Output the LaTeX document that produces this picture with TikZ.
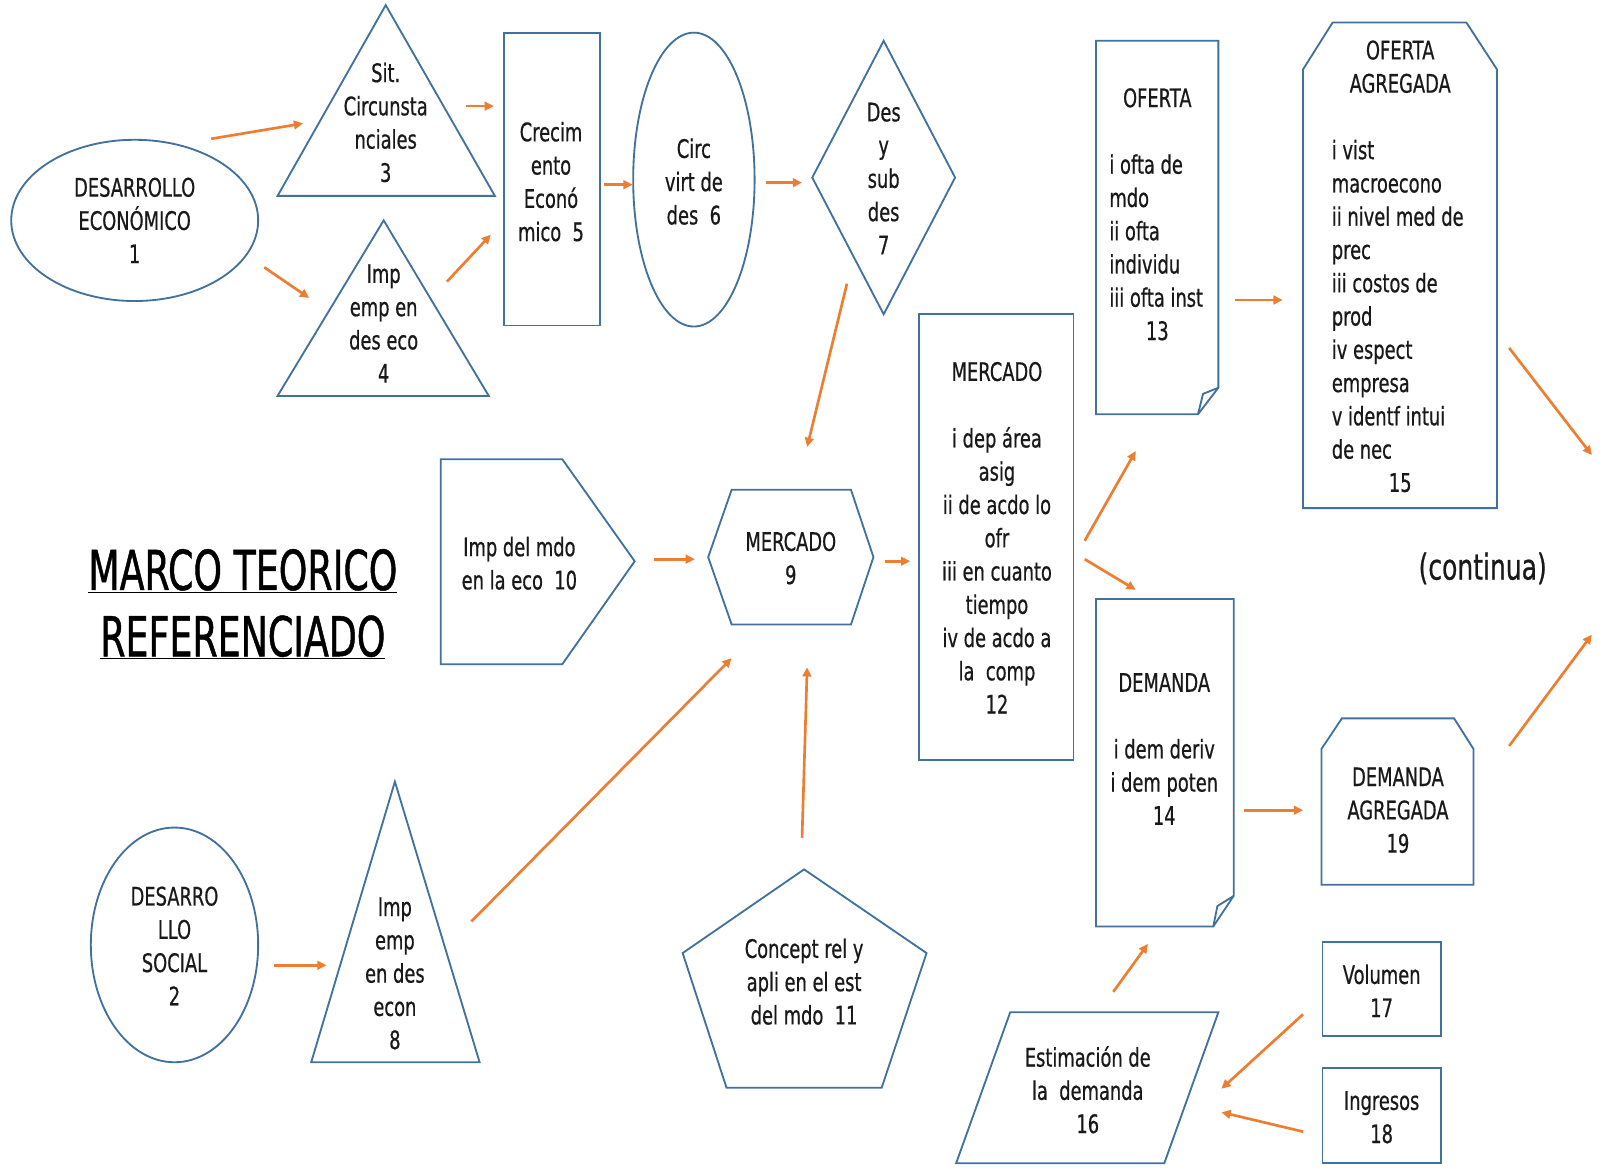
\documentclass[tikz,border=0pt]{standalone}
\usepackage{fontspec}
\setmainfont[FakeStretch=0.7,FakeBold=0.6]{DejaVu Sans}
\newfontfamily\titlefont[FakeStretch=0.66,FakeBold=0.8]{DejaVu Sans}
\usetikzlibrary{arrows.meta}
\definecolor{shapeblue}{RGB}{65,113,156}
\definecolor{arroworange}{RGB}{237,125,49}
\definecolor{txt}{RGB}{25,25,25}
\newcommand\ctrline[2]{\makebox[#1][c]{#2}}
\begin{document}
\begin{tikzpicture}[x=1pt,y=-1pt,
  shp/.style={draw=shapeblue, line width=1.8pt, line join=miter},
  lbl/.style={font=\fontsize{25}{32.6}\selectfont, text=txt, align=center, inner sep=0pt},
  arr/.style={draw=arroworange, line width=2.6pt, -{Triangle[length=9pt,width=8.5pt]}},
]
\useasboundingbox (0,0) rectangle (1568,1147);
\fill[white] (0,0) rectangle (1568,1147);

% ---------- shapes ----------
\draw[shp] (132,216) ellipse [x radius=121, y radius=79];
\draw[shp] (378,5) -- (485,192) -- (272,192) -- cycle;
\draw[shp] (376,216) -- (479,388) -- (272,388) -- cycle;
\draw[shp] (494,32) rectangle (588,319);
\draw[shp] (680,176) ellipse [x radius=59.5, y radius=144];
\draw[shp] (866,40) -- (936,174) -- (866,308) -- (796,174) -- cycle;
\draw[shp] (1074,40) -- (1194,40) -- (1194,380) -- (1174,406) -- (1074,406) -- cycle;
\draw[shp] (1174,406) -- (1179,386) -- (1194,380);
\draw[shp] (1306,22) -- (1437,22) -- (1467,68) -- (1467,498) -- (1277,498) -- (1277,68) -- cycle;
\draw[shp] (901,308) rectangle (1052,745);
\draw[shp] (432,450) -- (551,450) -- (622,550) -- (551,651) -- (432,651) -- cycle;
\draw[shp] (717,480) -- (834,480) -- (856,546) -- (834,612) -- (717,612) -- (694,546) -- cycle;
\draw[shp] (1074,587) -- (1209,587) -- (1209,878) -- (1189,908) -- (1074,908) -- cycle;
\draw[shp] (1189,908) -- (1193,888) -- (1209,878);
\draw[shp] (1315,704) -- (1425,704) -- (1444,734) -- (1444,867) -- (1295,867) -- (1295,734) -- cycle;
\draw[shp] (171,926) ellipse [x radius=82, y radius=115];
\draw[shp] (387,766) -- (470,1041) -- (305,1041) -- cycle;
\draw[shp] (788,852) -- (908,934) -- (864,1066) -- (712,1066) -- (669,934) -- cycle;
\draw[shp] (990,992) -- (1194,992) -- (1141,1140) -- (937,1140) -- cycle;
\draw[shp] (1296,923) rectangle (1412,1015);
\draw[shp] (1296,1047) rectangle (1412,1140);

% ---------- labels ----------
\node[lbl] (n1) at (132,216) {DESARROLLO\\ECONÓMICO\\1};
\node[lbl] (n3) at (378,120) {Sit.\\Circunsta\\nciales\\3};
\node[lbl] (n4) at (376,317) {Imp\\emp en\\des eco\\4};
\node[lbl] (n5) at (540,178) {Crecim\\ento\\Econó\\mico\ \ 5};
\node[lbl] (n6) at (680,178) {Circ\\virt de\\des\ \ 6};
\node[lbl] (n7) at (866,175) {Des\\y\\sub\\des\\7};
\node[lbl, align=left, anchor=west] (n13) at (1087,210)
  {\ctrline{94pt}{OFERTA}\\[32.6pt]i ofta de\\mdo\\ii ofta\\individu\\iii ofta inst\\\ctrline{94pt}{13}};
\node[lbl, align=left, anchor=west] (n15) at (1305,261)
  {\ctrline{134pt}{OFERTA}\\\ctrline{134pt}{AGREGADA}\\[32.6pt]i vist\\macroecono\\ii nivel med de\\prec\\iii costos de\\prod\\iv espect\\empresa\\v identf intui\\de nec\\\ctrline{134pt}{15}};
\node[lbl] (n12) at (977,527)
  {MERCADO\\[32.6pt]i dep área\\asig\\ii de acdo lo\\ofr\\iii en cuanto\\tiempo\\iv de acdo a\\la\ \ comp\\12};
\node[lbl] (n10) at (509,552) {Imp del mdo\\en la eco\ \ 10};
\node[lbl] (n9) at (775,547) {MERCADO\\9};
\node[lbl] (n14) at (1141,734) {DEMANDA\\[32.6pt]i dem deriv\\i dem poten\\14};
\node[lbl] (n19) at (1370,794) {DEMANDA\\AGREGADA\\19};
\node[lbl] (n2) at (171,927) {DESARRO\\LLO\\SOCIAL\\2};
\node[lbl] (n8) at (387,954) {Imp\\emp\\en des\\econ\\8};
\node[lbl] (n11) at (788,962) {Concept rel y\\apli en el est\\del mdo\ \ 11};
\node[lbl] (n16) at (1066,1068) {Estimación de\\la\ \ demanda\\16};
\node[lbl] (n17) at (1354,971) {Volumen\\17};
\node[lbl] (n18) at (1354,1095) {Ingresos\\18};
\node[text=black, align=center, inner sep=0pt, font=\titlefont\fontsize{54}{65}\selectfont] (title) at (238,592)
  {\underline{MARCO TEORICO}\\\underline{REFERENCIADO}};
\node[text=txt, inner sep=0pt, font=\fontsize{35}{40}\selectfont] (cont) at (1453,557) {(continua)};

% ---------- arrow end points ----------
\coordinate (a1s) at (207,136);  \coordinate (a1e) at (297,121);
\coordinate (a2s) at (259,262);  \coordinate (a2e) at (303,292);
\coordinate (a3s) at (457,104);  \coordinate (a3e) at (484,104);
\coordinate (a4s) at (438,276);  \coordinate (a4e) at (481,230);
\coordinate (a5s) at (592,181);  \coordinate (a5e) at (620,181);
\coordinate (a6s) at (751,179);  \coordinate (a6e) at (786,179);
\coordinate (a7s) at (830,278);  \coordinate (a7e) at (791,438);
\coordinate (a8s) at (641,548);  \coordinate (a8e) at (681,548);
\coordinate (a9s) at (867,550);  \coordinate (a9e) at (892,550);
\coordinate (a10s) at (462,903); \coordinate (a10e) at (717,645);
\coordinate (a11s) at (786,821); \coordinate (a11e) at (791,654);
\coordinate (a12s) at (269,946); \coordinate (a12e) at (320,946);
\coordinate (a13s) at (1063,530); \coordinate (a13e) at (1113,442);
\coordinate (a14s) at (1063,548); \coordinate (a14e) at (1113,578);
\coordinate (a15s) at (1210,294); \coordinate (a15e) at (1257,294);
\coordinate (a16s) at (1479,341); \coordinate (a16e) at (1560,446);
\coordinate (a17s) at (1479,731); \coordinate (a17e) at (1560,622);
\coordinate (a18s) at (1219,794); \coordinate (a18e) at (1277,794);
\coordinate (a19s) at (1091,972); \coordinate (a19e) at (1125,925);
\coordinate (a20s) at (1277,994); \coordinate (a20e) at (1197,1067);
\coordinate (a21s) at (1277,1109); \coordinate (a21e) at (1197,1090);

\foreach \i in {1,...,21} { \draw[arr] (a\i s) -- (a\i e); }
\end{tikzpicture}
\end{document}
